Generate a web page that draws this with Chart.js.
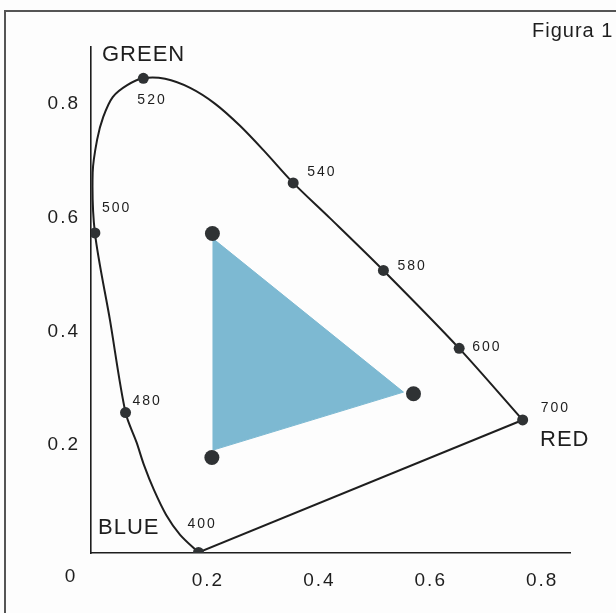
<!DOCTYPE html>
<html>
<head>
<meta charset="utf-8">
<script src="https://cdn.jsdelivr.net/npm/chart.js@4/dist/chart.umd.min.js"></script>
<style>
  html, body { margin: 0; padding: 0; background: #fdfdfd; }
  #wrap { width: 616px; height: 613px; }
</style>
</head>
<body>
<div id="wrap"><canvas id="cieChart"></canvas></div>
<script>
// tick labels
const xTicks = [0.2, 0.4, 0.6, 0.8];
const yTicks = [0.2, 0.4, 0.6, 0.8];

// spectral locus from 400 nm round to 700 nm
const locusX = [0.183, 0.150, 0.125, 0.103, 0.085, 0.072, 0.052, 0.024, -0.003, -0.007, 0.001, 0.012, 0.029, 0.055, 0.084, 0.123, 0.168, 0.213, 0.258, 0.302, 0.353, 0.419, 0.515, 0.651, 0.765];
const locusY = [0.011, 0.042, 0.077, 0.121, 0.165, 0.204, 0.257, 0.420, 0.573, 0.679, 0.737, 0.777, 0.812, 0.833, 0.845, 0.844, 0.828, 0.800, 0.761, 0.716, 0.661, 0.599, 0.507, 0.370, 0.244];

// marked wavelengths (nm)
const wavelengths = ['400', '480', '500', '520', '540', '580', '600', '700'];
const waveX = [0.183, 0.052, -0.003, 0.084, 0.353, 0.515, 0.651, 0.765];
const waveY = [0.011, 0.257, 0.573, 0.845, 0.661, 0.507, 0.370, 0.244];

// purple line: 700 nm back to 400 nm
const purpleX = [0.765, 0.183];
const purpleY = [0.244, 0.011];

// primaries (dots) and the shaded gamut
const primX = [0.208, 0.569, 0.207];
const primY = [0.572, 0.290, 0.178];
const gamutX = [0.209, 0.551, 0.209, 0.209];
const gamutY = [0.563, 0.293, 0.191, 0.563];

const pts = (xs, ys) => xs.map((x, i) => ({ x: x, y: ys[i] }));

// label placement relative to each marked point, in pixels
const waveLabelOffset = {
  '400': [-11, -28], '480': [7, -11], '500': [7, -25], '520': [-6, 22],
  '540': [14, -11], '580': [14, -4], '600': [13, -1], '700': [18, -12]
};

const INK = '#1e1e1e';
const FONT = '"Liberation Sans", Arial, sans-serif';

const decor = {
  id: 'decor',
  beforeDraw(chart) {
    const ctx = chart.ctx;
    ctx.save();
    ctx.fillStyle = '#fdfdfd';
    ctx.fillRect(0, 0, chart.width, chart.height);
    ctx.strokeStyle = '#555';
    ctx.lineWidth = 2;
    ctx.beginPath();
    ctx.moveTo(5, 613);
    ctx.lineTo(5, 11);
    ctx.lineTo(616, 11);
    ctx.stroke();
    ctx.restore();
    ctx.letterSpacing = '2px';
  },
  afterDraw(chart) {
    const ctx = chart.ctx;
    const xs = chart.scales.x, ys = chart.scales.y;
    ctx.save();
    ctx.fillStyle = INK;
    ctx.textBaseline = 'middle';
    ctx.textAlign = 'left';

    ctx.letterSpacing = '2px';
    ctx.font = '14px ' + FONT;
    wavelengths.forEach((w, i) => {
      const off = waveLabelOffset[w];
      ctx.fillText(w, xs.getPixelForValue(waveX[i]) + off[0], ys.getPixelForValue(waveY[i]) + off[1]);
    });

    ctx.letterSpacing = '1px';
    ctx.font = '22px ' + FONT;
    ctx.textBaseline = 'alphabetic';
    ctx.fillText('GREEN', 102, 61);
    ctx.fillText('BLUE', 98, 534);
    ctx.fillText('RED', 540, 446);

    ctx.font = '20px ' + FONT;
    ctx.fillText('Figura 1', 532, 37);

    ctx.letterSpacing = '2px';
    ctx.textAlign = 'center';
    ctx.textBaseline = 'middle';
    ctx.font = '19px ' + FONT;
    ctx.fillText('0', 71, 577);
    ctx.restore();
  }
};

new Chart(document.getElementById('cieChart').getContext('2d'), {
  type: 'scatter',
  data: {
    datasets: [
      {
        label: 'primaries',
        data: pts(primX, primY),
        pointRadius: 7.5,
        pointBackgroundColor: '#2f3234',
        pointBorderWidth: 0,
        showLine: false
      },
      {
        label: 'wavelengths',
        data: pts(waveX, waveY),
        pointRadius: 5.5,
        pointBackgroundColor: '#2f3234',
        pointBorderWidth: 0,
        showLine: false
      },
      {
        label: 'locus',
        data: pts(locusX, locusY),
        showLine: true,
        tension: 0.3,
        borderColor: INK,
        borderWidth: 2,
        pointRadius: 0
      },
      {
        label: 'purple line',
        data: pts(purpleX, purpleY),
        showLine: true,
        tension: 0,
        borderColor: INK,
        borderWidth: 2,
        pointRadius: 0
      },
      {
        label: 'gamut',
        data: pts(gamutX, gamutY),
        showLine: true,
        tension: 0,
        fill: 'shape',
        backgroundColor: '#7db9d2',
        borderColor: '#7db9d2',
        borderWidth: 1,
        pointRadius: 0
      }
    ]
  },
  options: {
    responsive: true,
    maintainAspectRatio: false,
    animation: false,
    layout: { padding: { left: 0, top: 47, right: 46, bottom: 0 } },
    plugins: {
      legend: { display: false },
      tooltip: { enabled: false }
    },
    scales: {
      x: {
        type: 'linear',
        min: -0.01,
        max: 0.85,
        afterFit: (s) => { s.height = 60; },
        afterBuildTicks: (s) => { s.ticks = xTicks.map(v => ({ value: v })); },
        grid: { display: false, drawTicks: false },
        border: { display: true, color: INK, width: 1.6 },
        ticks: {
          padding: 16,
          color: INK,
          font: { family: FONT, size: 19 },
          callback: (v) => v.toFixed(1)
        }
      },
      y: {
        type: 'linear',
        min: 0.01,
        max: 0.9,
        afterFit: (s) => { s.width = 91; },
        afterBuildTicks: (s) => { s.ticks = yTicks.map(v => ({ value: v })); },
        grid: { display: false, drawTicks: false },
        border: { display: true, color: INK, width: 1.6 },
        ticks: {
          padding: 11,
          color: INK,
          font: { family: FONT, size: 19 },
          callback: (v) => v.toFixed(1)
        }
      }
    }
  },
  plugins: [decor]
});
</script>
</body>
</html>
